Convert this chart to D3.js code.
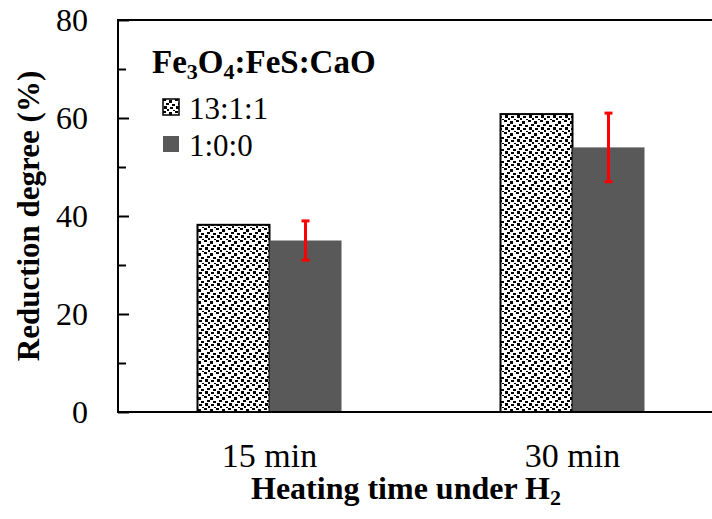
<!DOCTYPE html>
<html>
<head>
<meta charset="utf-8">
<script src="https://cdn.jsdelivr.net/npm/d3@7"></script>
<style>
  html, body { margin: 0; padding: 0; background: #fff; }
</style>
</head>
<body>
<svg id="chart" width="712" height="519"></svg>
<script>
// Reduction degree of Fe3O4 under H2 at two heating times
const categories = ["15 min", "30 min"];
const seriesNames = ["13:1:1", "1:0:0"];
const mix1311 = [38.2, 60.8];        // Fe3O4:FeS:CaO = 13:1:1
const mix100 = [35, 54];             // Fe3O4 only
const mix100Err = [4, 7];            // ± error on the 1:0:0 series
const yTicks = [0, 20, 40, 60, 80];
const yMinorTicks = [10, 30, 50, 70];

const FONT = "Liberation Serif";
const svg = d3.select("#chart").style("font-family", FONT);
const plotLeft = 118, plotTop = 20, plotBottom = 412, plotRight = 724;

const x = d3.scaleBand().domain(categories).range([plotLeft, plotRight]).padding(0);
const y = d3.scaleLinear().domain([0, 80]).range([plotBottom, plotTop]);
const barW = 72;

// dotted fill pattern
const defs = svg.append("defs");
const pat = defs.append("pattern")
  .attr("id", "dots").attr("patternUnits", "userSpaceOnUse")
  .attr("width", 12).attr("height", 12);
pat.append("rect").attr("width", 12).attr("height", 12).attr("fill", "#fff");
[[0,0,3,2],[6,1,3,3],[3,4,3,2],[9,5,3,2],[1,7,3,3],[7,8,3,2],[4,10,2,2],[10,11,2,1]]
  .forEach(d => pat.append("rect").attr("x", d[0]).attr("y", d[1])
    .attr("width", d[2]).attr("height", d[3]).attr("fill", "#000"));

const rows = categories.map((c, i) => ({ c, a: mix1311[i], b: mix100[i], e: mix100Err[i] }));

// patterned bars
svg.selectAll("rect.a").data(rows).join("rect").attr("class", "a")
  .attr("x", d => x(d.c) + x.bandwidth() / 2 - barW)
  .attr("y", d => y(d.a))
  .attr("width", barW)
  .attr("height", d => y(0) - y(d.a))
  .attr("fill", "url(#dots)")
  .attr("stroke", "#000").attr("stroke-width", 2);

// solid grey bars
svg.selectAll("rect.b").data(rows).join("rect").attr("class", "b")
  .attr("x", d => x(d.c) + x.bandwidth() / 2)
  .attr("y", d => y(d.b))
  .attr("width", barW)
  .attr("height", d => y(0) - y(d.b))
  .attr("fill", "#595959");

// error bars
const eb = svg.selectAll("g.err").data(rows).join("g").attr("class", "err")
  .attr("stroke", "#ff0000").attr("stroke-width", 3);
const cx = d => x(d.c) + x.bandwidth() / 2 + barW / 2;
eb.append("line").attr("x1", cx).attr("x2", cx)
  .attr("y1", d => y(d.b + d.e)).attr("y2", d => y(d.b - d.e));
eb.append("line").attr("x1", d => cx(d) - 4).attr("x2", d => cx(d) + 4)
  .attr("y1", d => y(d.b + d.e)).attr("y2", d => y(d.b + d.e));
eb.append("line").attr("x1", d => cx(d) - 4).attr("x2", d => cx(d) + 4)
  .attr("y1", d => y(d.b - d.e)).attr("y2", d => y(d.b - d.e));

// frame lines: left, bottom, top
const frame = svg.append("g").attr("stroke", "#000").attr("stroke-width", 2);
frame.append("line").attr("x1", plotLeft).attr("x2", plotLeft).attr("y1", plotTop - 1).attr("y2", plotBottom + 1);
frame.append("line").attr("x1", plotLeft - 1).attr("x2", 712).attr("y1", plotBottom).attr("y2", plotBottom);
frame.append("line").attr("x1", plotLeft - 1).attr("x2", 712).attr("y1", plotTop).attr("y2", plotTop);

// y axis with inward ticks
const yAxis = d3.axisRight(y).tickValues(yTicks).tickSize(11).tickFormat("");
const gy = svg.append("g").attr("transform", `translate(${plotLeft},0)`).call(yAxis);
gy.select(".domain").remove();
gy.selectAll(".tick line").attr("stroke", "#000").attr("stroke-width", 2);
const yMinor = d3.axisRight(y).tickValues(yMinorTicks).tickSize(8).tickFormat("");
const gym = svg.append("g").attr("transform", `translate(${plotLeft},0)`).call(yMinor);
gym.select(".domain").remove();
gym.selectAll(".tick line").attr("stroke", "#000").attr("stroke-width", 2);

// y tick labels
svg.append("g").selectAll("text").data(yTicks).join("text")
  .attr("x", 88).attr("y", d => y(d) + 11)
  .attr("text-anchor", "end").attr("font-size", 32).attr("fill", "#000")
  .style("font-family", FONT)
  .text(d => d);

// x tick labels
svg.append("g").selectAll("text").data(categories).join("text")
  .attr("x", d => x(d) + x.bandwidth() / 2).attr("y", 467)
  .attr("text-anchor", "middle").attr("font-size", 34).attr("fill", "#000")
  .style("font-family", FONT)
  .text(d => d);

// axis titles
svg.append("text")
  .attr("transform", "translate(39,216) rotate(-90)")
  .attr("text-anchor", "middle").attr("font-size", 31).attr("font-weight", "bold")
  .style("font-family", FONT)
  .text("Reduction degree (%)");

const xt = svg.append("text").attr("x", 406).attr("y", 499)
  .attr("text-anchor", "middle").attr("font-size", 32).attr("font-weight", "bold")
  .style("font-family", FONT);
xt.append("tspan").text("Heating time under H");
xt.append("tspan").attr("font-size", 22).attr("dy", 6).text("2");

// legend
const lt = svg.append("text").attr("x", 152).attr("y", 73)
  .attr("font-size", 33).attr("font-weight", "bold")
  .style("font-family", FONT);
lt.append("tspan").text("Fe");
lt.append("tspan").attr("font-size", 22).attr("dy", 6).text("3");
lt.append("tspan").attr("dy", -6).text("O");
lt.append("tspan").attr("font-size", 22).attr("dy", 6).text("4");
lt.append("tspan").attr("dy", -6).text(":FeS:CaO");

const fills = ["url(#dots)", "#595959"];
const leg = svg.append("g").selectAll("g").data(seriesNames).join("g")
  .attr("transform", (d, i) => `translate(163,${99 + i * 37})`);
leg.append("rect").attr("width", 16).attr("height", 16)
  .attr("fill", (d, i) => fills[i])
  .attr("stroke", (d, i) => i === 0 ? "#000" : "none").attr("stroke-width", 1.5);
leg.append("text").attr("x", 26).attr("y", 20).attr("font-size", 31)
  .style("font-family", FONT).text(d => d);
</script>
</body>
</html>
